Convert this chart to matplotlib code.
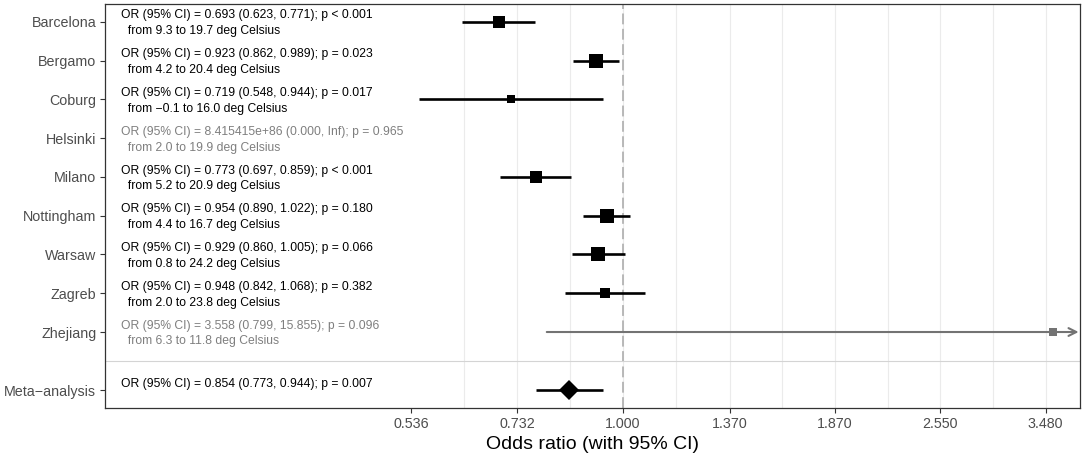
import numpy as np
import matplotlib
matplotlib.use('Agg')
import matplotlib.pyplot as plt
import matplotlib.transforms as mtransforms

plt.rcParams['font.family'] = ['Liberation Sans', 'DejaVu Sans']

# Datos por ciudad
cities = ['Barcelona', 'Bergamo', 'Coburg', 'Helsinki', 'Milano',
          'Nottingham', 'Warsaw', 'Zagreb', 'Zhejiang']
odds = [0.693, 0.923, 0.719, 8.415415e86, 0.773, 0.954, 0.929, 0.948, 3.558]
ci_lo = [0.623, 0.862, 0.548, 0.000, 0.697, 0.890, 0.860, 0.842, 0.799]
ci_hi = [0.771, 0.989, 0.944, np.inf, 0.859, 1.022, 1.005, 1.068, 15.855]
pvals = ['< 0.001', '= 0.023', '= 0.017', '= 0.965', '< 0.001',
         '= 0.180', '= 0.066', '= 0.382', '= 0.096']
t_min = [9.3, 4.2, -0.1, 2.0, 5.2, 4.4, 0.8, 2.0, 6.3]
t_max = [19.7, 20.4, 16.0, 19.9, 20.9, 16.7, 24.2, 23.8, 11.8]
# peso relativo de cada estudio (tamano de la caja)
weight = [0.82, 1.0, 0.61, 0.0, 0.86, 1.0, 0.98, 0.75, 0.49]
# estimaciones poco fiables en gris
unstable = [False, False, False, True, False, False, False, False, True]

# Meta-analisis
meta_or = 0.854
meta_lo = 0.773
meta_hi = 0.944
meta_p = '= 0.007'

# Eje x
xticks = [0.536, 0.732, 1.000, 1.370, 1.870, 2.550, 3.480]
xmin, xmax = 0.2171, 3.851

grey_txt = '#7f7f7f'
grey_line = '#737373'


def fmt(v):
    if np.isinf(v):
        return 'Inf'
    if v > 1000:
        return '{:e}'.format(v)
    return '{:.3f}'.format(v)


def fmt_t(v):
    return '{:.1f}'.format(v).replace('-', '\u2212')


fig = plt.figure(figsize=(10.85, 4.58), dpi=100)
ax = fig.add_axes([105/1085, 50/458, 975/1085, 404/458])
ax.set_xscale('log')
ax.set_xlim(xmin, xmax)
ax.set_ylim(9.96, -0.46)

# Rejilla solo en la zona de los datos
minors = [np.sqrt(a*b) for a, b in zip(xticks[:-1], xticks[1:])]
grid_vals = sorted([v for v in xticks + minors if v > 0.6])
for g in grid_vals:
    ax.axvline(g, color='#ebebeb', lw=0.8, zorder=0)

ax.axvline(1.0, color='#b3b3b3', lw=1.3, ls=(0, (6, 2.5)), zorder=1)
ax.axhline(8.75, color='#d4d4d4', lw=0.8, zorder=1)

rows = np.arange(len(cities))
trans = mtransforms.blended_transform_factory(ax.transAxes, ax.transData)

for i in rows:
    col = grey_txt if unstable[i] else 'black'
    txt = 'OR (95% CI) = {} ({}, {}); p {}\n  from {} to {} deg Celsius'.format(
        fmt(odds[i]), fmt(ci_lo[i]), fmt(ci_hi[i]), pvals[i],
        fmt_t(t_min[i]), fmt_t(t_max[i]))
    ax.text(0.0164, i + 0.04, txt, transform=trans, fontsize=8.7,
            color=col, va='center', ha='left', linespacing=1.42)

    lcol = grey_line if unstable[i] else 'black'
    lw = 1.5 if unstable[i] else 1.9
    if odds[i] > xmax:
        continue
    if ci_hi[i] > xmax:
        ax.annotate('', xy=(xmax, i), xytext=(ci_lo[i], i),
                    xycoords='data',
                    arrowprops=dict(arrowstyle='->', color=lcol, lw=lw,
                                    mutation_scale=14, shrinkA=0, shrinkB=1))
    else:
        ax.plot([ci_lo[i], ci_hi[i]], [i, i], color=lcol, lw=lw,
                solid_capstyle='butt', zorder=2)
    ms = 14.3 * weight[i] * 0.72
    ax.plot(odds[i], i, marker='s', ms=ms, color=lcol, mew=0, zorder=3)

# Meta-analisis
ym = 9.5
ax.text(0.0164, ym + 0.04, 'OR (95% CI) = {} ({}, {}); p {}\n '.format(
    fmt(meta_or), fmt(meta_lo), fmt(meta_hi), meta_p),
    transform=trans, fontsize=8.7, color='black', va='center', ha='left',
    linespacing=1.42)
ax.plot([meta_lo, meta_hi], [ym, ym], color='black', lw=1.9,
        solid_capstyle='butt', zorder=2)
ax.plot(meta_or, ym, marker='D', ms=10.2, color='black', mew=0, zorder=3)

ax.set_yticks(list(rows) + [ym])
ax.set_yticklabels(cities + ['Meta\u2212analysis'])
ax.set_xticks(xticks)
ax.set_xticklabels(['{:.3f}'.format(v) for v in xticks])
ax.xaxis.set_minor_locator(matplotlib.ticker.NullLocator())
ax.tick_params(axis='both', labelsize=10.3, labelcolor='#4d4d4d',
               color='#333333', length=3.8, width=0.8, pad=2.5)
ax.set_xlabel('Odds ratio (with 95% CI)', fontsize=14, labelpad=4)

for s in ax.spines.values():
    s.set_color('#333333')
    s.set_linewidth(0.9)

fig.savefig('out.png', dpi=100)
